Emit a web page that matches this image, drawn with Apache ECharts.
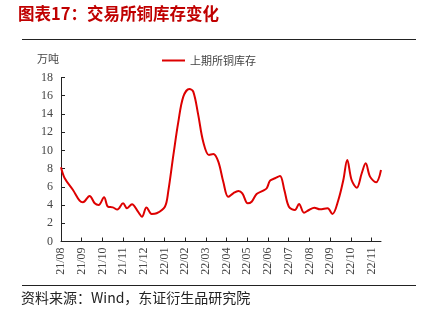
<!DOCTYPE html>
<html><head><meta charset="utf-8">
<script src="https://cdn.jsdelivr.net/npm/echarts@6/dist/echarts.min.js"></script>
<style>html,body{margin:0;padding:0;background:#fff}#c{width:429px;height:325px}</style>
</head><body><div id="c"></div>
<script>
// month labels (tick k = start of month k after 2021-08)
const monthLabels = ['21/08','21/09','21/10','21/11','21/12','22/01','22/02','22/03','22/04','22/05','22/06','22/07','22/08','22/09','22/10','22/11'];
// position of each observation, in months since 2021-08-01
const obsMonth = [0,0.18,0.58,0.9,1.06,1.38,1.63,1.82,2.08,2.27,2.5,2.72,3.0,3.19,3.43,3.72,3.91,4.13,4.38,4.62,5.02,5.18,5.43,5.67,5.91,6.2,6.39,6.63,6.87,7.15,7.36,7.6,7.84,8.08,8.32,8.57,8.76,9.02,9.21,9.45,9.77,9.94,10.1,10.34,10.58,10.79,11.01,11.3,11.5,11.74,11.98,12.24,12.51,12.88,13.11,13.4,13.64,13.83,14.04,14.29,14.53,14.72,14.93,15.22,15.46];
// 上期所铜库存, 万吨
const shfeCopper = [8.15,6.94,5.65,4.48,4.3,5.0,4.19,4.0,4.85,3.82,3.75,3.5,4.19,3.64,4.1,3.27,2.72,3.73,3.02,3.1,3.82,5.47,9.5,13.15,15.9,16.74,16.45,13.9,10.96,9.5,9.6,8.76,6.56,4.9,5.29,5.54,5.29,4.19,4.37,5.21,5.58,5.84,6.67,6.94,7.19,5.65,3.82,3.46,4.12,3.16,3.46,3.71,3.53,3.64,3.02,4.56,6.75,8.95,6.75,5.91,7.49,8.58,7.12,6.5,7.85];
const yTicks = [0,2,4,6,8,10,12,14,16,18];

const tickIdx = monthLabels.map((_, i) => i);
const serif = '"Liberation Serif","Times New Roman",serif';
const cjk = '"Noto Sans CJK SC",sans-serif';
const chart = echarts.init(document.getElementById('c'), null, {renderer:'canvas'});
chart.setOption({
  animation:false,
  title:[
    {text:'图表17：交易所铜库存变化', left:18, top:5, padding:0, textStyle:{fontFamily:cjk, fontSize:16.5, fontWeight:'bold', color:'#c00000'}},
    {text:'资料来源：Wind，东证衍生品研究院', left:21, top:291, padding:0, textStyle:{fontFamily:cjk, fontSize:14, fontWeight:'normal', color:'#222'}}
  ],
  graphic:[
    {type:'line', shape:{x1:22,y1:39.5,x2:416,y2:39.5}, style:{stroke:'#222', lineWidth:1}},
    {type:'line', shape:{x1:22,y1:285.5,x2:416,y2:285.5}, style:{stroke:'#222', lineWidth:1}},
    {type:'text', left:37, top:53, style:{text:'万吨', font:'11px "Noto Sans CJK SC",sans-serif', fill:'#444'}}
  ],
  legend:{left:162, top:55, padding:0, itemWidth:23, itemHeight:2, itemGap:6,
    textStyle:{fontFamily:cjk, fontSize:11, color:'#444'},
    data:[{name:'上期所铜库存', icon:'rect'}]},
  grid:{left:61, right:48, top:77.5, bottom:83.5, containLabel:false},
  xAxis:{type:'value', min:0, max:obsMonth[obsMonth.length-1], splitLine:{show:false},
    axisLine:{lineStyle:{color:'#222', width:1}},
    axisTick:{inside:true, length:4, lineStyle:{color:'#222'}, customValues:tickIdx},
    axisLabel:{customValues:tickIdx, rotate:90, margin:6, fontFamily:serif, fontSize:12, color:'#444',
      formatter:v => monthLabels[Math.round(v)] || ''}},
  yAxis:{type:'value', min:0, max:18, interval:2, splitLine:{show:false},
    axisLine:{show:true, lineStyle:{color:'#222', width:1}},
    axisTick:{show:true, inside:true, length:4, lineStyle:{color:'#222'}},
    axisLabel:{margin:8, fontFamily:serif, fontSize:12, color:'#444',
      formatter:v => yTicks.indexOf(v) >= 0 ? String(v) : ''}},
  series:[{name:'上期所铜库存', type:'line', smooth:0.35, symbol:'none',
    lineStyle:{color:'#dd0000', width:2}, itemStyle:{color:'#dd0000'},
    data: obsMonth.map((m, i) => [m, shfeCopper[i]])}]
});
</script></body></html>
